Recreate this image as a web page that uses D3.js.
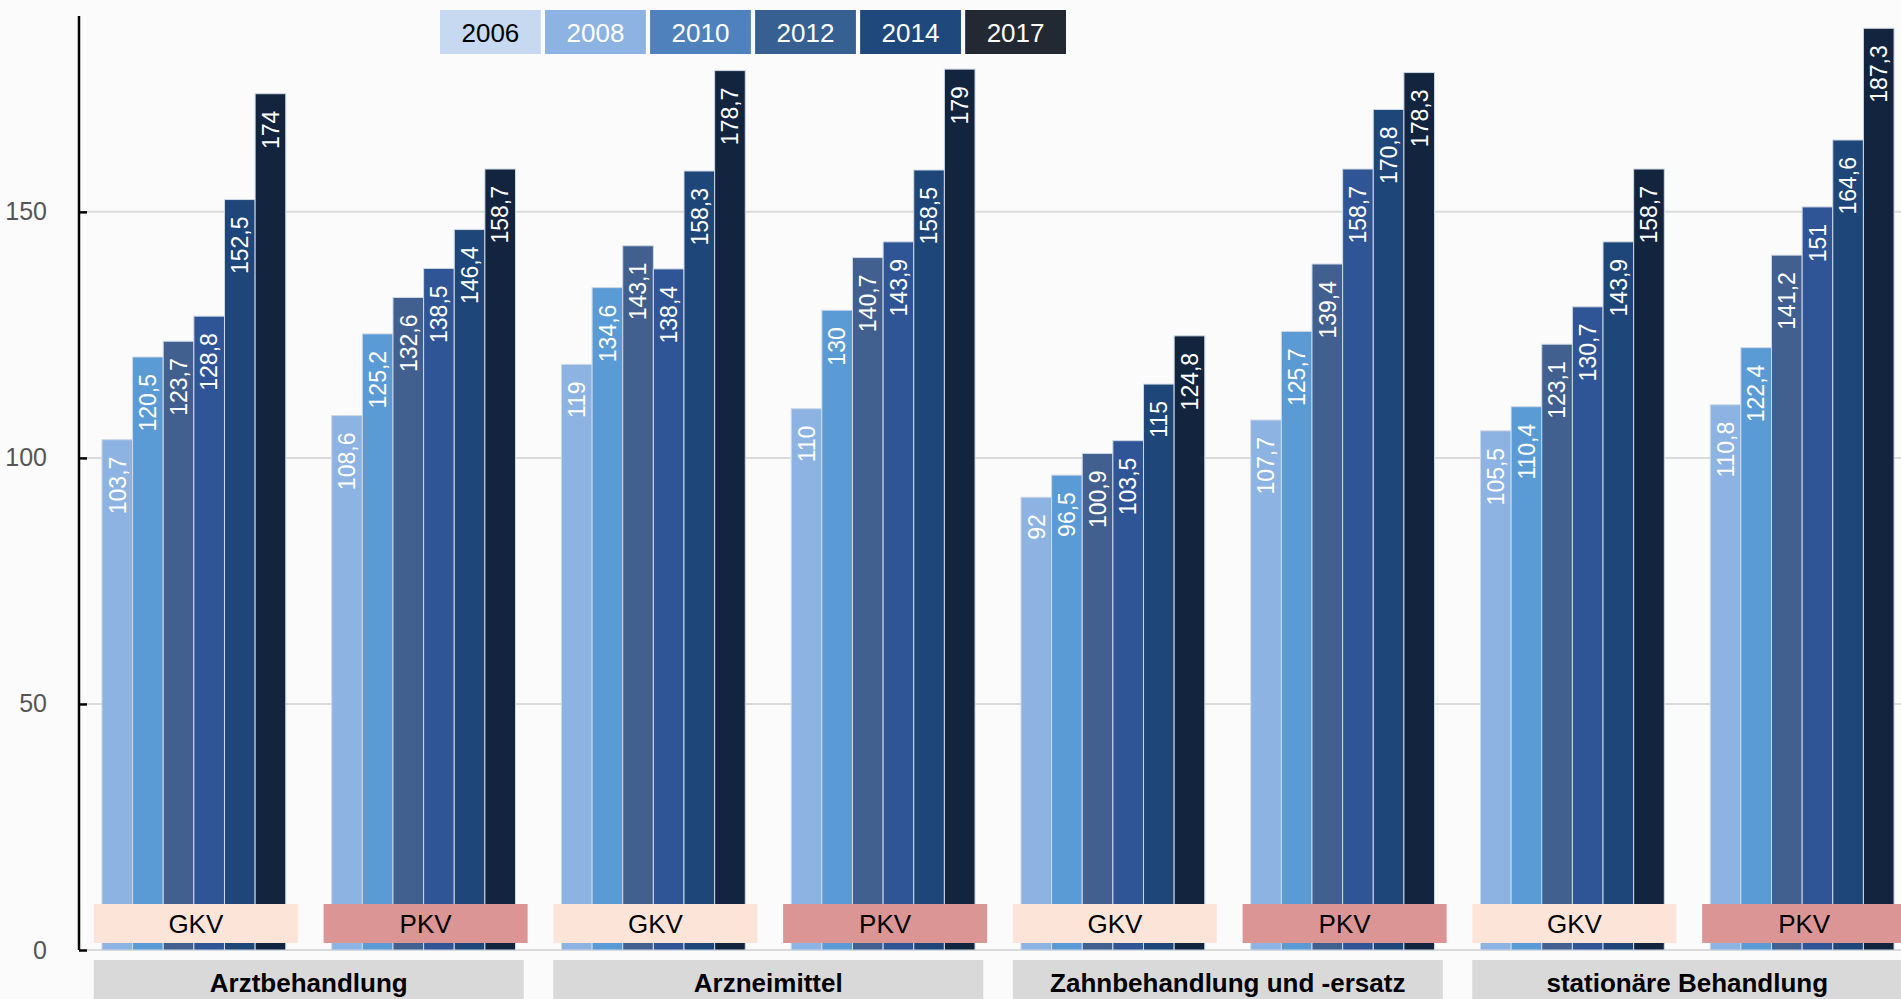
<!DOCTYPE html>
<html lang="de">
<head>
<meta charset="utf-8">
<title>Ausgabenentwicklung GKV und PKV</title>
<script src="https://cdn.jsdelivr.net/npm/d3@7"></script>
<style>
  html, body { margin: 0; padding: 0; background: #fbfbfb; }
  svg { display: block; font-family: "Liberation Sans", Arial, Helvetica, sans-serif; }
</style>
</head>
<body>
<svg id="chart" width="1901" height="999"></svg>
<script>
// Jahre (Legende) und Leistungsbereiche
const years = ["2006", "2008", "2010", "2012", "2014", "2017"];
const bereiche = ["Arztbehandlung", "Arzneimittel", "Zahnbehandlung und -ersatz", "stationäre Behandlung"];
const kassen = ["GKV", "PKV"];

// Indexwerte je Bereich und Versicherungsart (2006 .. 2017)
const arztGKV  = [103.7, 120.5, 123.7, 128.8, 152.5, 174];
const arztPKV  = [108.6, 125.2, 132.6, 138.5, 146.4, 158.7];
const arzneiGKV = [119, 134.6, 143.1, 138.4, 158.3, 178.7];
const arzneiPKV = [110, 130, 140.7, 143.9, 158.5, 179];
const zahnGKV  = [92, 96.5, 100.9, 103.5, 115, 124.8];
const zahnPKV  = [107.7, 125.7, 139.4, 158.7, 170.8, 178.3];
const statGKV  = [105.5, 110.4, 123.1, 130.7, 143.9, 158.7];
const statPKV  = [110.8, 122.4, 141.2, 151, 164.6, 187.3];

const yTicks = [0, 50, 100, 150];

// Farben
const barColors    = ["#8db3e2", "#5b9bd5", "#41608f", "#2f5597", "#1f4678", "#13243f"];
const legendColors = ["#c6d9f0", "#8db3e2", "#4f81bd", "#376092", "#1f497d", "#232933"];
const legendText   = ["#000000", "#ffffff", "#ffffff", "#ffffff", "#ffffff", "#ffffff"];
const kassenFill   = { GKV: "#fce5d8", PKV: "#da9594" };

// Gruppen aufbauen
const groupValues = [arztGKV, arztPKV, arzneiGKV, arzneiPKV, zahnGKV, zahnPKV, statGKV, statPKV];
const groups = [];
bereiche.forEach((b, i) => {
  kassen.forEach((k, j) => {
    groups.push({ key: b + "|" + k, bereich: b, kasse: k, values: groupValues[i * 2 + j] });
  });
});

const svg = d3.select("#chart");
const W = 1901, H = 999;

const x = d3.scaleBand()
  .domain(groups.map(g => g.key))
  .range([56, 1940])
  .paddingInner(0.2)
  .paddingOuter(0.2);

const xi = d3.scaleBand()
  .domain(years)
  .range([0, x.bandwidth()])
  .padding(0);

const y = d3.scaleLinear().domain([0, 190]).range([950, 15]);

const axisX = 79;

// Hintergrund
svg.append("rect").attr("width", W).attr("height", H).attr("fill", "#fbfbfb");

// Gitterlinien
svg.append("g")
  .selectAll("line")
  .data(yTicks)
  .join("line")
  .attr("x1", axisX + 8)
  .attr("x2", W)
  .attr("y1", d => y(d))
  .attr("y2", d => y(d))
  .attr("stroke", "#dadada")
  .attr("stroke-width", 2);

// Balken
const gGroups = svg.append("g")
  .selectAll("g")
  .data(groups)
  .join("g")
  .attr("transform", d => `translate(${x(d.key)},0)`);

gGroups.selectAll("rect")
  .data(d => d.values.map((v, i) => ({ year: years[i], value: v, i })))
  .join("rect")
  .attr("x", d => xi(d.year))
  .attr("y", d => y(d.value))
  .attr("width", xi.bandwidth())
  .attr("height", d => y(0) - y(d.value))
  .attr("fill", d => barColors[d.i])
  .attr("stroke", "#cfd8e6")
  .attr("stroke-width", 1);

// Werte-Beschriftung in den Balken
const fmt = v => String(v).replace(".", ",");
gGroups.selectAll("text")
  .data(d => d.values.map((v, i) => ({ year: years[i], value: v })))
  .join("text")
  .attr("transform", d => `translate(${xi(d.year) + xi.bandwidth() / 2},${y(d.value) + 17}) rotate(-90)`)
  .attr("text-anchor", "end")
  .attr("dy", "0.36em")
  .attr("fill", "#ffffff")
  .attr("font-size", 23)
  .text(d => fmt(d.value));

// Kassenart-Schilder
const labels = svg.append("g")
  .selectAll("g")
  .data(groups)
  .join("g")
  .attr("transform", d => `translate(${x(d.key) + x.bandwidth() / 2 + 2},0)`);

labels.append("rect")
  .attr("x", -102)
  .attr("y", 904)
  .attr("width", 204)
  .attr("height", 39)
  .attr("fill", d => kassenFill[d.kasse]);

labels.append("text")
  .attr("x", 0)
  .attr("y", 924)
  .attr("dy", "0.36em")
  .attr("text-anchor", "middle")
  .attr("font-size", 26)
  .attr("fill", "#000")
  .text(d => d.kasse);

// Y-Achse
const yAxis = d3.axisLeft(y)
  .tickValues(yTicks)
  .tickSize(-8)
  .tickPadding(32)
  .tickFormat(d3.format("d"));

const ya = svg.append("g")
  .attr("transform", `translate(${axisX},0)`)
  .call(yAxis);
ya.select(".domain").attr("d", `M0,16V${y(0)}`).attr("stroke", "#000").attr("stroke-width", 2.5);
ya.selectAll(".tick line").attr("stroke", "#000").attr("stroke-width", 2.5);
ya.selectAll(".tick text")
  .attr("fill", "#555")
  .attr("font-size", 25)
  .attr("font-family", "Liberation Sans, Arial, sans-serif");

// Bereichs-Streifen
const strips = svg.append("g")
  .selectAll("g")
  .data(bereiche)
  .join("g")
  .attr("transform", b => {
    const a = x(b + "|GKV"), e = x(b + "|PKV") + x.bandwidth();
    return `translate(${(a + e) / 2},0)`;
  });

strips.append("rect")
  .attr("x", -215)
  .attr("y", 960)
  .attr("width", 430)
  .attr("height", 60)
  .attr("fill", "#d9d9d9");

strips.append("text")
  .attr("x", 0)
  .attr("y", 992)
  .attr("text-anchor", "middle")
  .attr("font-size", 26)
  .attr("font-weight", "bold")
  .attr("fill", "#000")
  .text(b => b);

// Legende
const lx = d3.scaleBand().domain(years).range([440, 1066]).paddingInner(0.04);
const leg = svg.append("g")
  .selectAll("g")
  .data(years)
  .join("g")
  .attr("transform", d => `translate(${lx(d)},10)`);

leg.append("rect")
  .attr("width", lx.bandwidth())
  .attr("height", 44)
  .attr("fill", (d, i) => legendColors[i]);

leg.append("text")
  .attr("x", lx.bandwidth() / 2)
  .attr("y", 23)
  .attr("dy", "0.36em")
  .attr("text-anchor", "middle")
  .attr("font-size", 26)
  .attr("fill", (d, i) => legendText[i])
  .text(d => d);
</script>
</body>
</html>
